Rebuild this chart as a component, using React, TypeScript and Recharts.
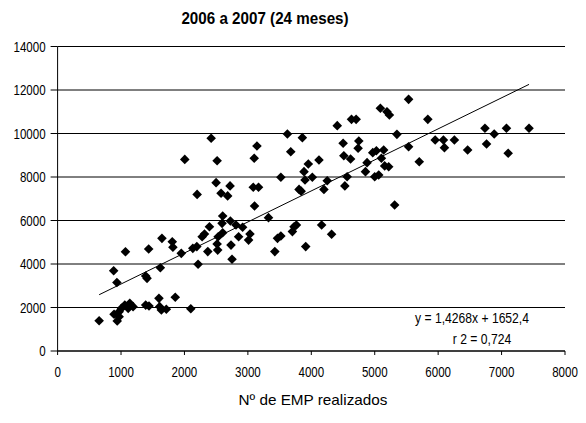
import React from "react";
import {
  ScatterChart,
  Scatter,
  XAxis,
  YAxis,
  CartesianGrid,
  ReferenceLine,
  Customized,
} from "recharts";

const TITLE = "2006 a 2007 (24 meses)";
const X_LABEL = "Nº de EMP realizados";
const EQUATION = "y = 1,4268x + 1652,4";
const R2 = "r 2 = 0,724";

const xTicks = [0, 1000, 2000, 3000, 4000, 5000, 6000, 7000, 8000];
const yTicks = [0, 2000, 4000, 6000, 8000, 10000, 12000, 14000];

// Nº de EMP realizados (x)
const empX = [
  655, 884, 935, 1070, 890, 940, 970, 970, 1007, 1060, 1113, 1138, 1190, 1389,
  1441, 1598, 1609, 1636, 1714, 1855, 2100, 1389, 1410, 1620, 1436, 1645, 1808,
  1818, 1950, 2005, 2132, 2195, 2200, 2215,
  2279, 2316, 2368, 2394, 2421, 2499, 2515, 2515, 2524, 2531, 2577, 2593, 2603,
  2603, 2681, 2719, 2724, 2734, 2750, 2813, 2854, 2917, 3011, 3033, 3085, 3105,
  3100, 3143, 3168, 3325, 3425, 3467, 3520, 3520, 3623, 3676, 3702, 3728, 3765,
  3807, 3840, 3859, 3885, 3901, 3912, 3953,
  4016, 4121, 4163, 4199, 4251, 4320, 4409, 4502, 4513, 4529, 4565, 4619, 4634,
  4707, 4738, 4749, 4854, 4879, 4969, 5000, 5026, 5063, 5089, 5105, 5141, 5157,
  5193, 5231, 5220, 5314, 5350, 5534, 5534, 5702, 5837, 5953, 6083, 6099, 6256,
  6465, 6738, 6763, 6884, 7077, 7104, 7433,
];

// valores (y)
const valY = [
  1390, 3690, 3150, 4560, 1690, 1380, 1580, 1810, 1960, 2110, 1960, 2190, 2040,
  2110, 2070, 2420, 2040, 1890, 1920, 2470, 1940, 3450, 3340, 3830, 4690, 5180,
  5025, 4770, 4490, 8810, 4720, 4800, 7200, 3990,
  5255, 5380, 4570, 5715, 9780, 7740, 8750, 4920, 4640, 5250, 7250, 5870, 6210,
  5440, 7130, 7590, 5980, 4870, 4220, 5790, 5255, 5690, 5100, 5380, 7530, 6670,
  8860, 9425, 7530, 6130, 4570, 5180, 5290, 7990, 9980, 9160, 5490, 5715, 5790,
  7430, 7350, 9810, 8245, 7860, 4800, 8600,
  7990, 8780, 5790, 7430, 7830, 5365, 10360, 9550, 8980, 7590, 8010, 8830,
  10650, 10650, 9320, 9655, 8245, 8660, 9120, 8010, 9210, 8090, 11160, 8860,
  9240, 8510, 11000, 10850, 8470, 6710, 9960, 11570, 9390, 8700, 10650, 9700,
  9700, 9350, 9700, 9240, 10240, 9520, 9980, 10240, 9090, 10240,
];

// linha de tendência: extremos
const trendStart = { x: 655, y: 2587 };
const trendEnd = { x: 7433, y: 12258 };

const points = empX.map((x, i) => ({ x, y: valY[i] }));

const FONT = "'Liberation Sans', Arial, sans-serif";

const Diamond = (props: any) => {
  const { cx, cy } = props;
  const r = 4.8;
  return (
    <polygon
      points={`${cx},${cy - r} ${cx + r},${cy} ${cx},${cy + r} ${cx - r},${cy}`}
      fill="#000"
    />
  );
};

const YTick = (props: any) => {
  const { x, y, payload } = props;
  return (
    <g transform={`translate(${x},${y})`}>
      <text
        transform="scale(0.77,1)"
        textAnchor="end"
        dy="0.36em"
        fontSize={15}
        fontFamily={FONT}
        fill="#000"
      >
        {payload.value}
      </text>
    </g>
  );
};

const XTick = (props: any) => {
  const { x, y, payload } = props;
  return (
    <g transform={`translate(${x},${y})`}>
      <text
        transform="scale(0.77,1)"
        textAnchor="middle"
        dy="0.71em"
        fontSize={15}
        fontFamily={FONT}
        fill="#000"
      >
        {payload.value}
      </text>
    </g>
  );
};

const Overlay = () => (
  <g>
    <g transform="translate(265,24)">
      <text
        textAnchor="middle"
        fontSize={16}
        fontWeight="bold"
        fontFamily={FONT}
        fill="#000"
        transform="scale(0.95,1)"
      >
        {TITLE}
      </text>
    </g>
    <g transform="translate(313,405)">
      <text
        textAnchor="middle"
        fontSize={15}
        fontFamily={FONT}
        fill="#000"
        transform="scale(1.02,1)"
      >
        {X_LABEL}
      </text>
    </g>
    <g transform="translate(472,323)">
      <text
        textAnchor="middle"
        fontSize={15}
        fontFamily={FONT}
        fill="#000"
        transform="scale(0.81,1)"
      >
        {EQUATION}
      </text>
    </g>
    <g transform="translate(482,344)">
      <text
        textAnchor="middle"
        fontSize={15}
        fontFamily={FONT}
        fill="#000"
        transform="scale(0.81,1)"
      >
        {R2}
      </text>
    </g>
  </g>
);

export default function App() {
  return (
    <div
      style={{
        position: "absolute",
        left: 0,
        top: 0,
        width: 586,
        height: 423,
        background: "#fff",
      }}
    >
      <ScatterChart
        width={586}
        height={423}
        margin={{ top: 46.5, right: 21, bottom: 42, left: 0 }}
      >
        <CartesianGrid vertical={false} stroke="#000" strokeWidth={1} />
        <XAxis
          type="number"
          dataKey="x"
          domain={[0, 8000]}
          ticks={xTicks}
          interval={0}
          height={30}
          stroke="#000"
          tickSize={4}
          tickMargin={11}
          tick={<XTick />}
          allowDataOverflow
        />
        <YAxis
          type="number"
          dataKey="y"
          domain={[0, 14000]}
          ticks={yTicks}
          interval={0}
          width={57.6}
          stroke="#000"
          tickSize={7}
          tickMargin={5}
          tick={<YTick />}
          allowDataOverflow
        />
        <Scatter data={points} shape={<Diamond />} isAnimationActive={false} />
        <ReferenceLine
          segment={[trendStart, trendEnd]}
          stroke="#000"
          strokeWidth={1}
          ifOverflow="visible"
        />
        <Customized component={Overlay} />
      </ScatterChart>
    </div>
  );
}
